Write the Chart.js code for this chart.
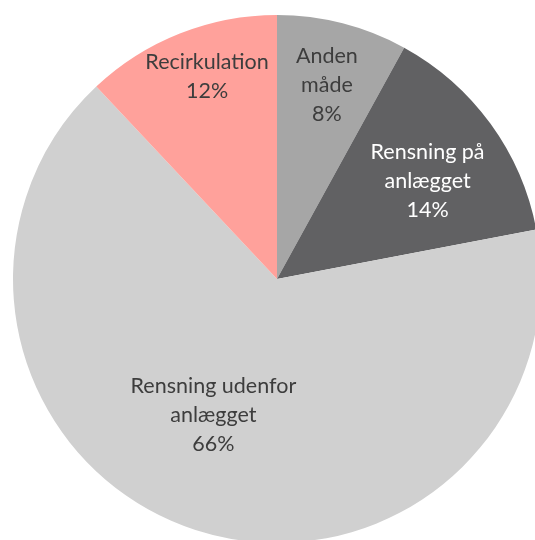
<!DOCTYPE html>
<html>
<head>
<meta charset="utf-8">
<script src="https://cdn.jsdelivr.net/npm/chart.js@4/dist/chart.umd.min.js"></script>
<style>
    html, body { margin: 0; padding: 0; background: #ffffff; overflow: hidden; }
    #wrap { position: relative; width: 535px; height: 540px; overflow: hidden; }
    #myChart { position: absolute; left: 13px; top: 15px; }
</style>
</head>
<body>
<div id="wrap">
    <canvas id="myChart" width="528" height="528"></canvas>
</div>
<script>
var labels = [
    ['Anden', 'måde'],
    ['Rensning på', 'anlægget'],
    ['Rensning udenfor', 'anlægget'],
    ['Recirkulation']
];
var values = [8, 14, 66, 12];
var colors = ['#a6a6a6', '#616163', '#d0d0d0', '#ffa19b'];
var textColors = ['#3d3d3d', '#ffffff', '#3d3d3d', '#3d3d3d'];

// where the label sits: fraction of radius, turn from slice middle (degrees)
var labelRadius = [0.76, 0.68, 0.57, 0.81];
var labelTurn = [0, 3, 7, 2.5];

var sliceLabels = {
    id: 'sliceLabels',
    afterDatasetsDraw: function(chart){
        var ctx = chart.ctx;
        var meta = chart.getDatasetMeta(0);
        var total = 0;
        for(var i = 0; i < values.length; i++){
            total += values[i];
        }
        ctx.save();
        ctx.font = '21.5px Lato, "Open Sans", sans-serif';
        ctx.textAlign = 'center';
        ctx.textBaseline = 'middle';
        for(var i = 0; i < meta.data.length; i++){
            var arc = meta.data[i];
            var p = arc.getProps(['x', 'y', 'startAngle', 'endAngle', 'outerRadius'], true);
            var mid = (p.startAngle + p.endAngle) / 2 + labelTurn[i] * Math.PI / 180;
            var r = p.outerRadius * labelRadius[i];
            var cx = p.x + Math.cos(mid) * r;
            var cy = p.y + Math.sin(mid) * r;
            var lines = labels[i].slice();
            lines.push(Math.round(values[i] / total * 100) + '%');
            var lh = 29;
            var y0 = cy - (lines.length - 1) * lh / 2;
            ctx.fillStyle = textColors[i];
            for(var l = 0; l < lines.length; l++){
                ctx.fillText(lines[l], cx, y0 + l * lh);
            }
        }
        ctx.restore();
    }
};

var ctx = document.getElementById('myChart');
var myChart = new Chart(ctx, {
    type: 'pie',
    data: {
        labels: labels,
        datasets: [{
            data: values,
            backgroundColor: colors,
            borderWidth: 0
        }]
    },
    options: {
        responsive: false,
        animation: false,
        layout: { padding: 0 },
        plugins: {
            legend: { display: false },
            tooltip: { enabled: false }
        }
    },
    plugins: [sliceLabels]
});
</script>
</body>
</html>
